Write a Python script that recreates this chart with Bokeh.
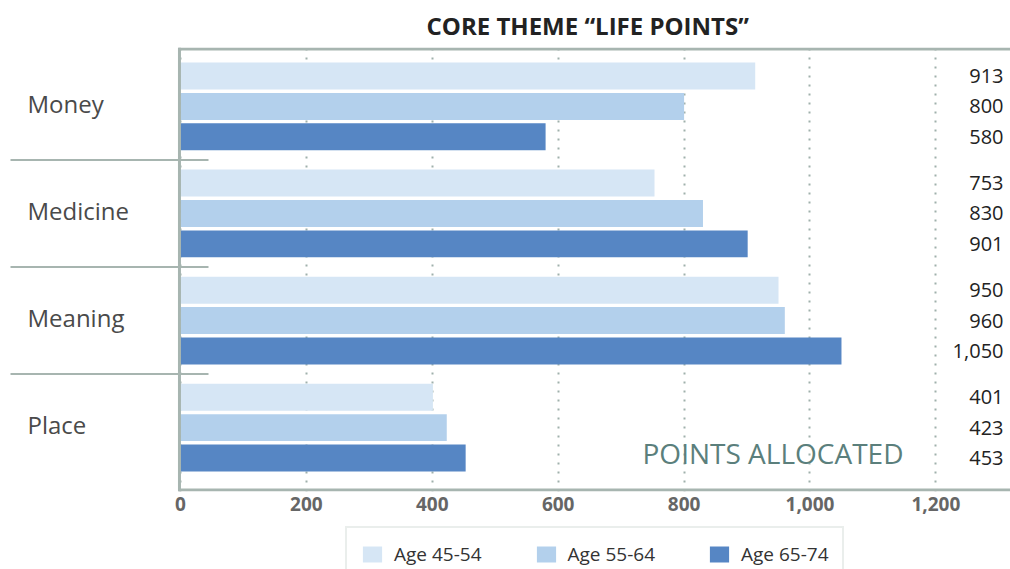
from bokeh.plotting import figure
from bokeh.layouts import column
from bokeh.models import (ColumnDataSource, Range1d, FixedTicker, NumeralTickFormatter,
                          Legend, LegendItem, Title)
from bokeh.core.properties import value
from bokeh.embed import file_html
from bokeh.resources import INLINE

# ---------------- data ----------------
categories = ["Money", "Medicine", "Meaning", "Place"]
series_names = ["Age 45-54", "Age 55-64", "Age 65-74"]
age_45_54 = [913, 753, 950, 401]
age_55_64 = [800, 830, 960, 423]
age_65_74 = [580, 901, 1050, 453]
x_ticks = [0, 200, 400, 600, 800, 1000, 1200]
title_text = "CORE THEME \u201cLIFE POINTS\u201d"
axis_note = "POINTS ALLOCATED"

# ---------------- styles ----------------
colors = ["#d6e6f5", "#b3d0ec", "#5686c4"]
line_col = "#a7b5b0"
grid_col = "#9fb0ab"
FONT = "Open Sans"

n = len(categories)
centers = [n - 1 - i for i in range(n)]          # Money at top
offsets = [0.284, 0.0, -0.284]
bar_h = 0.252
X0, X1 = -285.9, 1318.5
Y0, Y1 = -0.5965, 3.5499

p = figure(width=1010, height=522, output_backend="svg", toolbar_location=None,
           x_range=Range1d(X0, X1), y_range=Range1d(Y0, Y1),
           min_border_left=0, min_border_right=0, min_border_top=46, min_border_bottom=31)
p.outline_line_color = None
p.yaxis.visible = False
p.ygrid.grid_line_color = None

ax = p.xaxis[0]
ax.ticker = FixedTicker(ticks=x_ticks)
ax.formatter = NumeralTickFormatter(format="0,0")
ax.axis_line_color = None
ax.major_tick_line_color = None
ax.minor_tick_line_color = None
ax.major_tick_in = 0
ax.major_tick_out = 0
ax.major_label_standoff = 5
ax.major_label_text_font = FONT
ax.major_label_text_font_size = "19px"
ax.major_label_text_font_style = "bold"
ax.major_label_text_color = "#666666"

g = p.xgrid[0]
g.ticker = FixedTicker(ticks=x_ticks)
g.grid_line_color = grid_col
g.grid_line_width = 2
g.grid_line_dash = "2 7"

# bars
sources = []
label_x, label_y, label_t = [], [], []
for j, vals in enumerate([age_45_54, age_55_64, age_65_74]):
    ys = [c + offsets[j] for c in centers]
    src = ColumnDataSource(dict(y=ys, right=vals))
    sources.append(src)
    p.hbar(y="y", left=0, right="right", height=bar_h, source=src,
           fill_color=colors[j], line_color=None)
    for yy, v in zip(ys, vals):
        label_x.append(1307.4)
        label_y.append(yy)
        label_t.append(f"{v:,}")

# value labels
p.text(x=label_x, y=label_y, text=label_t, text_align="right", text_baseline="middle",
       text_font=value(FONT), text_font_size="20px", text_color="#222222")

# category labels
p.text(x=[-243] * n, y=centers, text=categories, text_align="left", text_baseline="middle",
       y_offset=-3, text_font=value(FONT), text_font_size="24px", text_color="#4a4a4a")

# separators between groups
sep_y = [i + 0.5 for i in range(n - 1)]
p.segment(x0=[-270] * len(sep_y), x1=[44.5] * len(sep_y), y0=sep_y, y1=sep_y,
          line_color=line_col, line_width=2)

# frame lines: left axis, top border, bottom axis
p.segment(x0=[-1.6], x1=[-1.6], y0=[Y0], y1=[Y1], line_color=line_col, line_width=3)
p.segment(x0=[-3.2, -3.2], x1=[X1, X1], y0=[3.536, -0.5825], y1=[3.536, -0.5825],
          line_color=line_col, line_width=3)

# axis note
p.text(x=[941.2], y=[-0.26], text=[axis_note], text_align="center", text_baseline="middle",
       y_offset=-2, text_font=value(FONT), text_font_size="28px", text_color="#5b7f7c")

# title
t = Title(text=title_text, align="left", offset=426, text_font=FONT, text_font_size="24px",
          text_font_style="bold", text_color="#222222", standoff=12)
p.add_layout(t, "above")

# legend strip (second figure, legend box runs off the bottom edge)
q = figure(width=1010, height=47, output_backend="svg", toolbar_location=None,
           x_range=Range1d(0, 1), y_range=Range1d(100, 101),
           min_border_left=0, min_border_right=0, min_border_top=0, min_border_bottom=0)
q.outline_line_color = None
q.xaxis.visible = False
q.yaxis.visible = False
q.xgrid.grid_line_color = None
q.ygrid.grid_line_color = None
leg_r = []
for j, src in enumerate(sources):
    leg_r.append(q.hbar(y="y", left=0, right="right", height=bar_h, source=src,
                        fill_color=colors[j], line_color=None))

legend = Legend(items=[LegendItem(label=s, renderers=[r]) for s, r in zip(series_names, leg_r)],
                orientation="horizontal", location=(345, -13),
                glyph_width=24, glyph_height=20, label_standoff=10, spacing=52, padding=13,
                margin=0,
                label_text_font=FONT, label_text_font_size="19px", label_text_color="#333333",
                border_line_color="#d5ddd9", border_line_width=2, background_fill_color="white",
                background_fill_alpha=1.0)
q.add_layout(legend, "center")

layout = column(p, q, spacing=0)
open("out.html", "w").write(file_html(layout, INLINE))
